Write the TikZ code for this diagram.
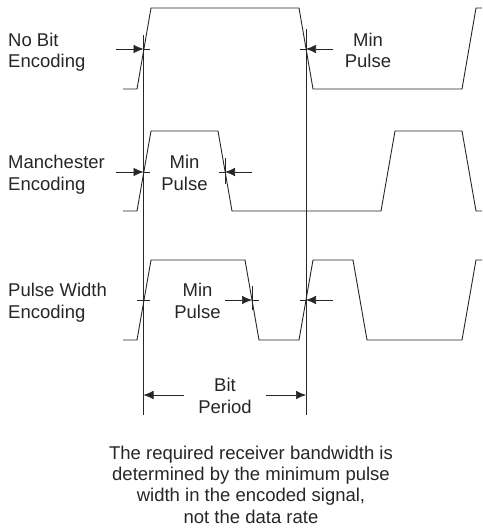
\documentclass[tikz,border=0pt]{standalone}
\usepackage{fontspec}
\setmainfont{Liberation Sans}
\usetikzlibrary{arrows.meta}

\tikzset{
    wave/.style = {draw = black!85, line width = 0.9pt, line join = miter},
    guide/.style = {draw = black!85, line width = 0.6pt},
    dimarrow/.style = {guide, -{Latex[length = 10pt, width = 8.5pt]}},
    lbl/.style = {anchor = base west, align = left, inner sep = 0pt, text = black!85, font = \fontsize{18.5}{21.3}\selectfont},
    note/.style = {lbl, anchor = base, align = center}
}

\begin{document}
\begin{tikzpicture}[x = 1pt, y = -1pt]
        \useasboundingbox (0, 0) rectangle (482, 529);

        \draw[wave] (123, 89) -- (137, 89) -- (151, 8) -- (299, 8) -- (313, 89) -- (462, 89) -- (476, 8) -- (482, 8);
        \draw[wave] (123, 211) -- (137, 211) -- (151, 131) -- (218, 131) -- (232, 211) -- (381, 211) -- (395, 131) -- (462, 131) -- (476, 211) -- (482, 211);
        \draw[wave] (123, 340) -- (137, 340) -- (151, 260) -- (245, 260) -- (259, 340) -- (299, 340) -- (313, 260) -- (353, 260) -- (367, 340) -- (462, 340) -- (476, 260) -- (482, 260);

        \coordinate (startTop) at (143.5, 35);
        \coordinate (startBot) at (143.5, 415);
        \coordinate (endTop) at (306, 29);
        \coordinate (endBot) at (306, 415);
        \draw[guide] (startTop) -- (startBot);
        \draw[guide] (endTop) -- (endBot);

        \foreach \y/\xa/\xb/\xc [count = \i] in {49/116/143.5/150, 49/333/306/300, 172/116/143.5/150, 172/252/225/219, 300/225/252/259, 300/333/306/300}{
            \coordinate (tail\i) at (\xa, \y);
            \coordinate (tip\i) at (\xb, \y);
            \coordinate (stop\i) at (\xc, \y);
            \draw[dimarrow] (tail\i) -- (tip\i);
            \draw[guide] (tip\i) -- (stop\i);
        }

        \coordinate (tickA) at (225, 158);
        \coordinate (tickB) at (225, 184);
        \coordinate (tickC) at (252, 286);
        \coordinate (tickD) at (252, 310);
        \coordinate (tickE) at (137, 300);
        \coordinate (tickF) at (150, 300);
        \draw[guide] (tickA) -- (tickB);
        \draw[guide] (tickC) -- (tickD);
        \draw[guide] (tickE) -- (tickF);

        \node[note] (period) at (225, 413) {Bit\\Period};
        \coordinate (periodL) at (184, 395);
        \coordinate (periodR) at (266, 395);
        \coordinate (periodLtip) at (143.5, 395);
        \coordinate (periodRtip) at (306, 395);
        \draw[dimarrow] (periodL) -- (periodLtip);
        \draw[dimarrow] (periodR) -- (periodRtip);

        \node[lbl] (noBit) at (8, 68) {No Bit\\Encoding};
        \node[lbl] (manchester) at (8, 190) {Manchester\\Encoding};
        \node[lbl] (pulseWidth) at (8, 318) {Pulse Width\\Encoding};
        \node[note] (minA) at (368, 68) {Min\\Pulse};
        \node[note] (minB) at (184.5, 190) {Min\\Pulse};
        \node[note] (minC) at (197.5, 318) {Min\\Pulse};

        \node[note] (caption) at (251, 523) {The required receiver bandwidth is\\determined by the minimum pulse\\width in the encoded signal,\\not the data rate};
    \end{tikzpicture}
\end{document}
